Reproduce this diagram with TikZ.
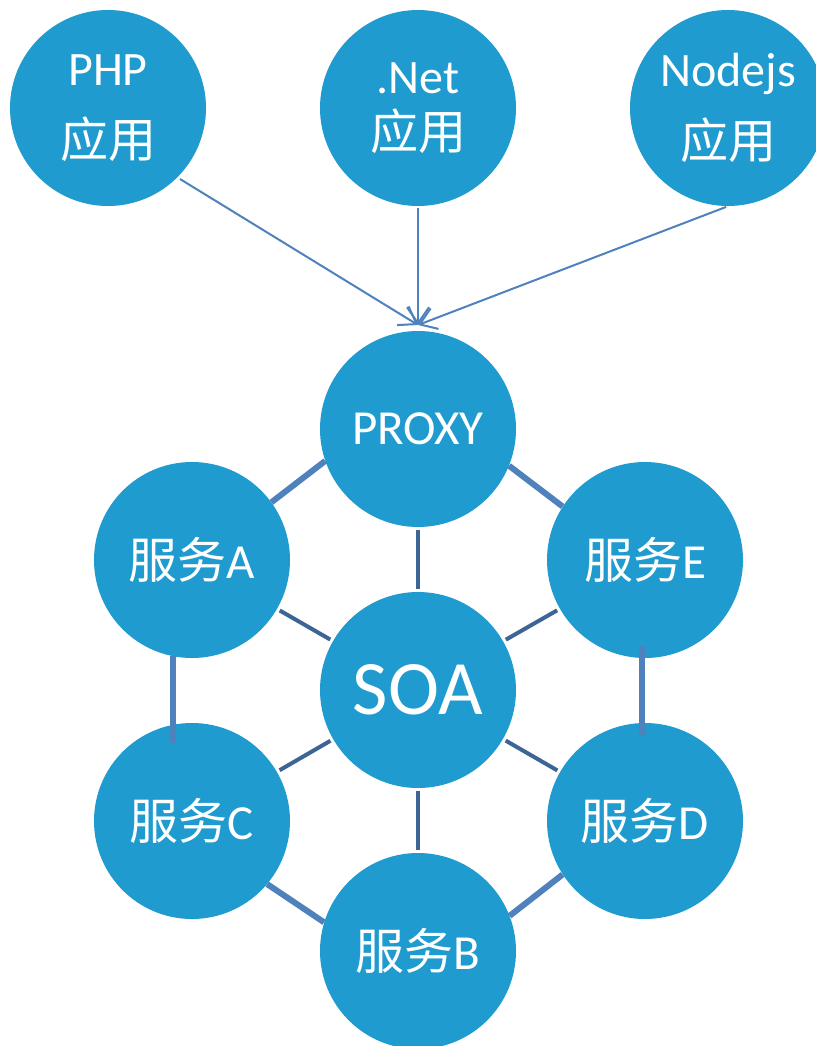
\documentclass[tikz,border=0pt]{standalone}
\usepackage{fontspec}
\setmainfont{Carlito}
\newfontfamily\cjk{Noto Sans CJK SC}
\usetikzlibrary{arrows.meta}
\definecolor{bubble}{RGB}{31,155,207}
\definecolor{ringblue}{RGB}{79,129,189}
\definecolor{spokeblue}{RGB}{60,100,150}

\begin{document}
\begin{tikzpicture}[x=1pt, y=-1pt,
			app/.style={circle, fill=bubble, draw=none, minimum size=196pt, inner sep=0pt,
				text=white, align=center, font=\fontsize{48}{56}\selectfont},
			svc/.style={app, font=\fontsize{49}{56}\selectfont},
			core/.style={app, font=\fontsize{77}{80}\selectfont},
			ring/.style={line width=6pt, ringblue},
			spoke/.style={line width=4pt, spokeblue, shorten <=3pt, shorten >=3pt},
			call/.style={line width=2pt, ringblue, -{Straight Barb[length=16pt, width=22pt]}}
			]
			\useasboundingbox (0,0) rectangle (815,1046);
			
			\node[app] (PHP) at (108,108) {PHP\\[16pt]{\cjk 应用}};
			\node[app] (Net) at (418,108) {.Net\\{\cjk 应用}};
			\node[app] (Nodejs) at (728,108) {Nodejs\\[16pt]{\cjk 应用}};
			
			\node[svc] (Proxy) at (418,429) {PROXY};
			\node[core] (SOA) at (418,690) {SOA};
			\node[svc] (SvcA) at (192,560) {{\cjk 服务}A};
			\node[svc] (SvcE) at (645,560) {{\cjk 服务}E};
			\node[svc] (SvcC) at (192,821) {{\cjk 服务}C};
			\node[svc] (SvcD) at (645,821) {{\cjk 服务}D};
			\node[svc] (SvcB) at (418,951) {{\cjk 服务}B};
			
			\coordinate (Entry) at (418,325);
			\draw[call, shorten <=3pt] (PHP.-45) -- (Entry);
			\draw[call, shorten <=2pt] (Net.south) -- (Entry);
			\draw[call, shorten <=2pt] (Nodejs.south) -- (Entry);
			
			% outer ring
			\draw[ring] (SvcA.36) -- (Proxy.199);
			\draw[ring] (Proxy.338) -- (SvcE.147);
			\draw[ring, shorten >=-18pt] (SvcA.259) -- (SvcC.101);
			\draw[ring, shorten <=-12pt, shorten >=-12pt] (SvcE.268) -- (SvcD.92);
			\draw[ring] (SvcC.320) -- (SvcB.163);
			\draw[ring] (SvcB.21) -- (SvcD.213);
			
			% spokes to the centre
			\foreach \s in {Proxy,SvcA,SvcE,SvcC,SvcD,SvcB}
			\draw[spoke] (\s) -- (SOA);
		\end{tikzpicture}
\end{document}
